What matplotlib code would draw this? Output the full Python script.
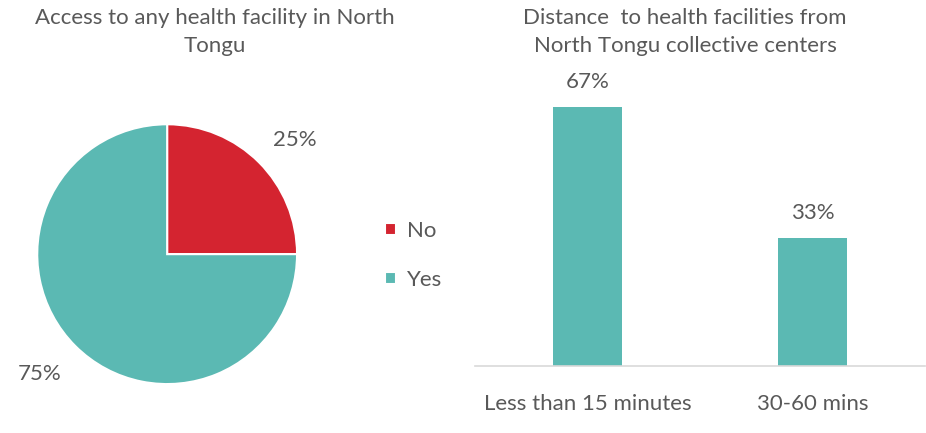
import matplotlib.pyplot as plt

# pie data
pie_labels = ["No", "Yes"]
pie_values = [25, 75]
pie_colors = ["#d42430", "#5bb9b3"]

# bar data
bar_cats = ["Less than 15 minutes", "30-60 mins"]
bar_values = [67, 33]
bar_color = "#5bb9b3"

txt = "#595959"
fs = 16
plt.rcParams["font.family"] = ["Lato", "DejaVu Sans"]

fig = plt.figure(figsize=(9.26, 4.33), dpi=100)

# left: pie
ax1 = fig.add_axes([0.040, 0.113, 0.281, 0.600])
wedges, _ = ax1.pie(pie_values, colors=pie_colors, startangle=90, counterclock=False,
                    wedgeprops=dict(edgecolor="white", linewidth=1.5))
ax1.set_xlim(-1, 1)
ax1.set_ylim(-1, 1)
ax1.set_aspect("equal")
ax1.text(0.98, 0.88, f"{pie_values[0]}%", fontsize=fs, color=txt, ha="center", va="center")
ax1.text(-0.98, -0.92, f"{pie_values[1]}%", fontsize=fs, color=txt, ha="center", va="center")
fig.text(0.232, 0.926, "Access to any health facility in North\nTongu", fontsize=fs,
         color=txt, ha="center", va="center", linespacing=1.5)
leg = fig.legend(wedges, pie_labels, loc="center left", bbox_to_anchor=(0.394, 0.41),
                 frameon=False, fontsize=fs, labelcolor=txt, handlelength=0.5,
                 handleheight=0.5, handletextpad=0.5, labelspacing=1.3)

# right: bars
ax2 = fig.add_axes([0.513, 0.1547, 0.486, 0.714])
x = range(len(bar_cats))
bars = ax2.bar(x, bar_values, width=0.31, color=bar_color)
for xi, v in zip(x, bar_values):
    ax2.text(xi, v + 4, f"{v}%", ha="center", va="bottom", fontsize=fs, color=txt)
ax2.set_xlim(-0.5, 1.5)
ax2.set_ylim(0, 80)
ax2.set_xticks(list(x))
ax2.set_xticklabels(bar_cats, fontsize=fs, color=txt)
ax2.tick_params(axis="x", length=0, pad=20)
ax2.set_yticks([])
for s in ["top", "right", "left"]:
    ax2.spines[s].set_visible(False)
ax2.spines["bottom"].set_color("#d9d9d9")
ax2.spines["bottom"].set_linewidth(1.2)
fig.text(0.740, 0.926, "Distance  to health facilities from\nNorth Tongu collective centers",
         fontsize=fs, color=txt, ha="center", va="center", linespacing=1.5)

fig.savefig("out.png", dpi=100)
